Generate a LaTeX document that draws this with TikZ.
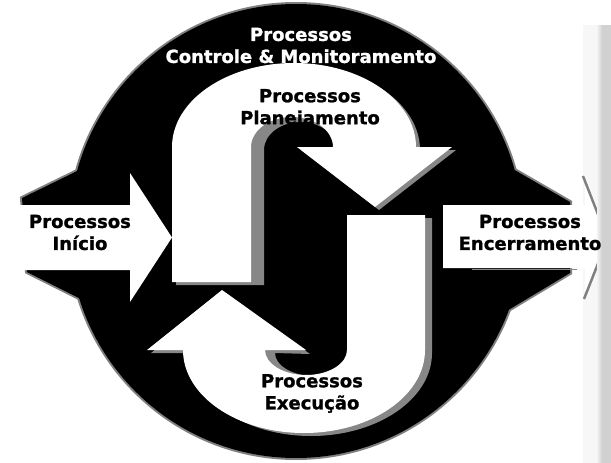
\documentclass[tikz,border=0pt]{standalone}
\usepackage{fontspec}
\setmainfont{DejaVu Sans}[BoldFeatures={FakeBold=1.2}]
\begin{document}
\begin{tikzpicture}[x=1pt,y=-1pt,
  lbl/.style={font=\bfseries\fontsize{18}{22}\selectfont, align=center, inner sep=0pt},
  rim/.style={draw=black!50, line width=4pt, fill=black},
  blk/.style={fill=black},
  shd/.style={fill=black!47},
  wht/.style={fill=white}]
\useasboundingbox (0,0) rectangle (611,463);
% faint panel band
\fill[black!3] (583,25) rectangle (600,463);
% black body with grey rim
\path[rim] (296,231) circle[radius=227];
\path[rim] (22,198) -- (110,155) -- (110,313.5) -- (27,272) -- cycle;
\path[rim] (480,150) -- (570,202) -- (570,273) -- (480,327) -- cycle;
\fill[blk] (296,231) circle[radius=227];
\fill[blk] (22,198) -- (110,155) -- (110,313.5) -- (27,272) -- cycle;
\fill[blk] (480,150) -- (570,202) -- (570,273) -- (480,327) -- cycle;
% Encerramento arrow
\fill[wht] (443,205) -- (585,205) -- (585,175) -- (609,238) -- (585,300) -- (585,268) -- (443,268) -- cycle;
\draw[black!50, line width=2.5pt] (583,176) -- (601,222);
\draw[black!50, line width=2.5pt] (601,256) -- (584,299);
\draw[black!45, line width=1.5pt] (472,269.5) -- (577,269.5);
% right panel strip
\shade[left color=black!5, right color=black!18] (597,25) rectangle (602,463);
\fill[black!18] (602,25) rectangle (611,463);
% Inicio arrow
\fill[wht] (15,205) -- (130,205) -- (130,173) -- (172,237.5) -- (130,302) -- (130,270) -- (15,270) -- cycle;
% S arrow (Planejamento)
\fill[shd] (176,285) -- (176,150) arc[start angle=180, end angle=360, x radius=122, y radius=84]
  -- (456,150) -- (379,210) -- (301,150) -- (337,150)
  arc[start angle=0, end angle=-180, x radius=36.5, y radius=28] -- (264,285) -- cycle;
\fill[wht] (172,282) -- (172,147) arc[start angle=180, end angle=360, x radius=122, y radius=84]
  -- (452,147) -- (375,207) -- (297,147) -- (333,147)
  arc[start angle=0, end angle=-180, x radius=41, y radius=30] -- (251,282) -- cycle;
% J arrow (Execucao)
\fill[shd] (354,218) -- (432,218) -- (432,353) arc[start angle=0, end angle=180, x radius=121, y radius=83]
  -- (151,353) -- (226,293) -- (310,354) -- (275,353)
  arc[start angle=180, end angle=0, x radius=39.5, y radius=23] -- cycle;
\fill[wht] (347,215) -- (425,215) -- (425,350) arc[start angle=0, end angle=180, x radius=121, y radius=83]
  -- (147,350) -- (222,290) -- (306,350) -- (265,350)
  arc[start angle=180, end angle=0, x radius=41, y radius=25] -- cycle;
% labels
\node[lbl, text=white] (ctl) at (301,45.5) {Processos\\Controle \& Monitoramento};
\node[lbl] (pla) at (310,108.6) {Processos\\Planejamento};
\node[lbl] (exe) at (312,393.5) {Processos\\Execução};
\node[lbl] (ini) at (80,232.5) {Processos\\Início};
\node[lbl] (enc) at (530,232.5) {Processos\\Encerramento};
\end{tikzpicture}
\end{document}
